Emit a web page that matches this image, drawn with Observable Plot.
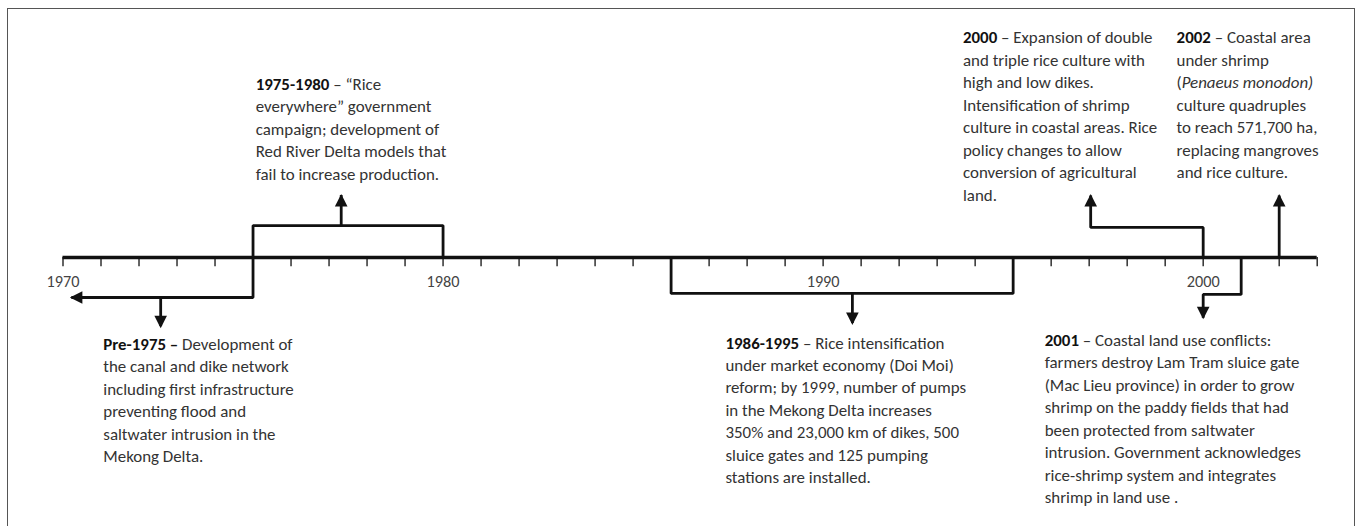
<!DOCTYPE html>
<html>
<head>
<meta charset="utf-8">
<script src="https://cdn.jsdelivr.net/npm/d3@7"></script>
<script src="https://cdn.jsdelivr.net/npm/@observablehq/plot@0.6"></script>
<style>
  html, body { margin: 0; padding: 0; background: #fff; }
  #wrap { position: relative; width: 1357px; height: 526px; overflow: hidden; }
  #border { position: absolute; left: 7px; top: 8px; width: 1346px; height: 600px;
            border: 1.5px solid #555; border-bottom: none; }
  #chart { position: absolute; left: 0; top: 0; }
</style>
</head>
<body>
<div id="wrap"><div id="border"></div><div id="chart"></div></div>
<script>
// ---------- data ----------
const axisStart = 1970;
const axisEnd = 2003;
const tickYears = d3.range(1970, 2004);
const decadeLabels = [1970, 1980, 1990, 2000];

// connector paths (year, level): level 0 = timeline, + above, - below
const pathEvents = ["Pre-1975", "1975-1980", "1986-1995", "2000", "2001", "2002"];
const pathYears = [
  [1975, 1975, 1970.22],
  [1975, 1975, 1980, 1980],
  [1986, 1986, 1995, 1995],
  [2000, 2000, 1997.04, 1997.04],
  [2001, 2001, 2000, 2000],
  [2002, 2002]
];
const pathLevels = [
  [0, -1.29, -1.29],
  [0, 1.03, 1.03, 0],
  [0, -1.16, -1.16, 0],
  [0, 0.97, 0.97, 2.0],
  [0, -1.19, -1.19, -1.94],
  [0, 2.0]
];

// arrow stems from the middle of brackets
const stemYears = [1972.57, 1977.32, 1990.77];
const stemFrom = [-1.29, 1.03, -1.16];
const stemTo = [-2.23, 2.0, -2.13];

// arrow heads
const tipYears = [1970.22, 1972.57, 1977.32, 1990.77, 1997.04, 2000, 2002];
const tipLevels = [-1.29, -2.23, 2.0, -2.13, 2.0, -1.94, 2.0];
const tipDirs = ["left", "down", "up", "down", "up", "down", "up"];

// annotation notes
const noteYears = [1971.06, 1975.07, 1987.43, 1993.68, 1995.83, 1999.30];
const noteLevels = [-2.46, 5.93, -2.42, 7.42, -2.33, 7.42];
const noteTexts = [
  "**Pre-1975 –** Development of\nthe canal and dike network\nincluding first infrastructure\npreventing flood and\nsaltwater intrusion in the\nMekong Delta.",
  "**1975-1980** – “Rice\neverywhere” government\ncampaign; development of\nRed River Delta models that\nfail to increase production.",
  "**1986-1995** – Rice intensification\nunder market economy (Doi Moi)\nreform; by 1999, number of pumps\nin the Mekong Delta increases\n350% and 23,000 km of dikes, 500\nsluice gates and 125 pumping\nstations are installed.",
  "**2000** – Expansion of double\nand triple rice culture with\nhigh and low dikes.\nIntensification of shrimp\nculture in coastal areas. Rice\npolicy changes to allow\nconversion of agricultural\nland.",
  "**2001** – Coastal land use conflicts:\nfarmers destroy Lam Tram sluice gate\n(Mac Lieu province) in order to grow\nshrimp on the paddy fields that had\nbeen protected from saltwater\nintrusion. Government acknowledges\nrice-shrimp system and integrates\nshrimp in land use .",
  "**2002** – Coastal area\nunder shrimp\n(_Penaeus monodon)_\nculture quadruples\nto reach 571,700 ha,\nreplacing mangroves\nand rice culture."
];

// ---------- styling ----------
const family = "Carlito, Lato, sans-serif";
const cv = document.createElement("canvas").getContext("2d");
cv.font = `100px ${family}`;
const bodyFs = 190.7 / (cv.measureText("including first infrastructure").width / 100);
const tickFs = 33 / (cv.measureText("1970").width / 100);
const lineHeightEm = 22.5 / bodyFs;

const paths = pathEvents.flatMap((e, i) =>
  pathYears[i].map((yr, j) => ({event: e, x: yr, y: pathLevels[i][j]})));
const stems = stemYears.map((x, i) => ({x, y1: stemFrom[i], y2: stemTo[i]}));
const tips = tipYears.map((x, i) => ({x, y: tipLevels[i], dir: tipDirs[i]}));
const notes = noteYears.map((x, i) => ({x, y: noteLevels[i], text: noteTexts[i]}));

const triUp = {draw(c) { c.moveTo(0, -1.5); c.lineTo(6.3, 11); c.lineTo(-6.3, 11); c.closePath(); }};
const triDown = {draw(c) { c.moveTo(0, 1.5); c.lineTo(6.3, -11); c.lineTo(-6.3, -11); c.closePath(); }};
const triLeft = {draw(c) { c.moveTo(-1.5, 0); c.lineTo(11, -6.3); c.lineTo(11, 6.3); c.closePath(); }};
const symFor = {up: triUp, down: triDown, left: triLeft};

const svg = Plot.plot({
  width: 1357,
  height: 526,
  margin: 0,
  x: {domain: [axisStart, axisEnd], range: [62.5, 1316.7], axis: null},
  y: {domain: [0, 1], range: [257, 226], axis: null},
  style: {fontFamily: family, background: "transparent"},
  marks: [
    Plot.ruleX(tickYears, {x: d => d, y1: () => 0, y2: () => -0.3, stroke: "#222", strokeWidth: 1.4}),
    Plot.ruleY([{y: 0, x1: axisStart, x2: axisEnd}], {y: "y", x1: "x1", x2: "x2", stroke: "#111", strokeWidth: 3.6}),
    Plot.line(paths, {x: "x", y: "y", z: "event", stroke: "#111", strokeWidth: 2.8, strokeLinejoin: "miter", strokeLinecap: "butt"}),
    Plot.ruleX(stems, {x: "x", y1: "y1", y2: "y2", stroke: "#111", strokeWidth: 2.8, strokeLinecap: "butt"}),
    ...["up", "down", "left"].map(dir =>
      Plot.dot(tips.filter(t => t.dir === dir), {x: "x", y: "y", symbol: symFor[dir], fill: "#111", stroke: "none"})),
    Plot.text(decadeLabels, {x: d => d, y: () => -0.78, text: d => String(d), fontSize: tickFs, fill: "#444", textAnchor: "middle"}),
    Plot.text(notes, {x: "x", y: "y", text: "text", textAnchor: "start", lineAnchor: "top",
      lineHeight: lineHeightEm, fontSize: bodyFs, fill: "#333"})
  ]
});

// rich text: **bold** and _italic_
const NS = "http://www.w3.org/2000/svg";
d3.select(svg).selectAll("text").each(function() {
  const leaves = this.querySelectorAll("tspan").length ? Array.from(this.querySelectorAll("tspan")) : [this];
  for (const el of leaves) {
    const s = el.textContent;
    if (!/\*\*|_/.test(s)) continue;
    el.textContent = "";
    for (const part of s.split(/(\*\*[^*]+\*\*|_[^_]+_)/)) {
      if (!part) continue;
      const t = document.createElementNS(NS, "tspan");
      if (part.startsWith("**")) {
        t.textContent = part.slice(2, -2);
        t.setAttribute("font-weight", "bold");
        t.setAttribute("fill", "#111");
      } else if (part.startsWith("_") && part.endsWith("_")) {
        t.textContent = part.slice(1, -1);
        t.setAttribute("font-style", "italic");
      } else {
        t.textContent = part;
      }
      el.appendChild(t);
    }
  }
});

document.getElementById("chart").appendChild(svg);
</script>
</body>
</html>
